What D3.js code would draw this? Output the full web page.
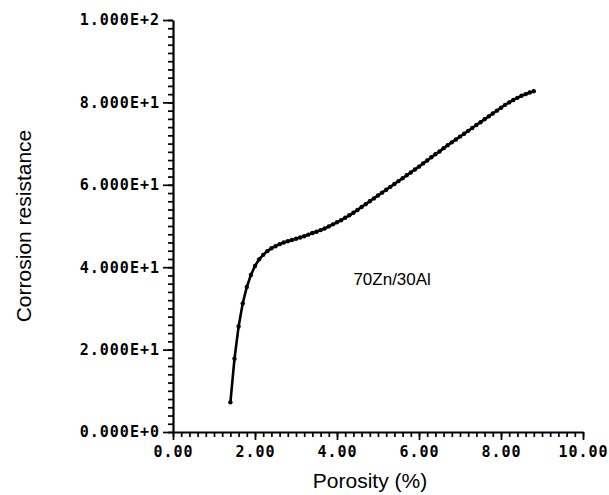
<!DOCTYPE html>
<html>
<head>
<meta charset="utf-8">
<script src="https://cdn.jsdelivr.net/npm/d3@7"></script>
<style>
  body { margin: 0; background: #fff; }
  svg { display: block; }
  .tick text { font-family: "DejaVu Sans Mono", monospace; font-weight: bold; font-size: 15px; letter-spacing: 1px; fill: #000; }
  .title { font-family: "Liberation Sans", Arial, sans-serif; font-size: 21px; fill: #000; }
</style>
</head>
<body>
<svg id="chart" width="609" height="495"></svg>
<script>
// porosity (%) and corrosion resistance
const porosity = [1.4, 1.5, 1.6, 1.7, 1.8, 1.9, 2.0, 2.1, 2.2, 2.3, 2.4, 2.5, 2.6, 2.7, 2.8, 2.9,
  3.0, 3.1, 3.2, 3.3, 3.4, 3.5, 3.6, 3.7, 3.8, 3.9, 4.0, 4.1, 4.2, 4.3, 4.4, 4.5, 4.6, 4.7, 4.8, 4.9,
  5.0, 5.1, 5.2, 5.3, 5.4, 5.5, 5.6, 5.7, 5.8, 5.9, 6.0, 6.1, 6.2, 6.3, 6.4, 6.5, 6.6, 6.7, 6.8, 6.9,
  7.0, 7.1, 7.2, 7.3, 7.4, 7.5, 7.6, 7.7, 7.8, 7.9, 8.0, 8.1, 8.2, 8.3, 8.4, 8.5, 8.6, 8.7, 8.8];
const resistance = [7.2, 17.8, 25.6, 31.2, 35.2, 38.1, 40.3, 41.9, 43.0, 43.9, 44.6, 45.1, 45.6, 46.0, 46.3, 46.6,
  46.9, 47.2, 47.5, 47.9, 48.3, 48.6, 49.0, 49.4, 49.9, 50.4, 50.9, 51.4, 52.0, 52.6, 53.2, 53.9, 54.6, 55.3, 56.0, 56.7,
  57.4, 58.1, 58.8, 59.5, 60.2, 60.9, 61.6, 62.3, 63.0, 63.7, 64.4, 65.2, 65.9, 66.7, 67.4, 68.1, 68.9, 69.6, 70.3, 71.0,
  71.7, 72.4, 73.1, 73.8, 74.5, 75.2, 75.9, 76.6, 77.3, 78.0, 78.7, 79.4, 80.0, 80.6, 81.1, 81.6, 82.0, 82.4, 82.7];

const yTicks = [0, 20, 40, 60, 80, 100];
const yTickLabels = ["0.000E+0", "2.000E+1", "4.000E+1", "6.000E+1", "8.000E+1", "1.000E+2"];
const xTicks = [0, 2, 4, 6, 8, 10];
const xTickLabels = ["0.00", "2.00", "4.00", "6.00", "8.00", "10.00"];
const seriesLabel = "70Zn/30Al";

const data = porosity.map((p, i) => ({ x: p, y: resistance[i] }));

const svg = d3.select("#chart");
const margin = { top: 20, right: 26, bottom: 63, left: 173 };
const width = +svg.attr("width") - margin.left - margin.right;
const height = +svg.attr("height") - margin.top - margin.bottom;

const g = svg.append("g").attr("transform", `translate(${margin.left},${margin.top})`);

const x = d3.scaleLinear().domain([0, 10]).range([0, width]);
const y = d3.scaleLinear().domain([0, 100]).range([height, 0]);

// minor ticks
g.append("g")
  .attr("transform", `translate(0,${height})`)
  .call(d3.axisBottom(x).tickValues(d3.range(0, 10.01, 0.2)).tickSize(5).tickFormat(""))
  .call(a => a.select(".domain").remove());
g.append("g")
  .call(d3.axisLeft(y).tickValues(d3.range(0, 100.1, 2)).tickSize(5).tickFormat(""))
  .call(a => a.select(".domain").remove());

// major ticks + labels
const xAxis = g.append("g")
  .attr("transform", `translate(0,${height})`)
  .call(d3.axisBottom(x).tickValues(xTicks).tickSize(8).tickSizeOuter(0)
    .tickFormat((d, i) => xTickLabels[i]));
xAxis.selectAll("text").attr("dy", "0.9em");

const yAxis = g.append("g")
  .call(d3.axisLeft(y).tickValues(yTicks).tickSize(10).tickSizeOuter(0)
    .tickFormat((d, i) => yTickLabels[i]));
yAxis.selectAll("text").attr("x", -13);

g.selectAll(".domain").attr("stroke-width", 2.2);
g.selectAll(".tick line").attr("stroke-width", 1.7);

// curve
const line = d3.line().x(d => x(d.x)).y(d => y(d.y));
g.append("path")
  .datum(data)
  .attr("fill", "none")
  .attr("stroke", "#000")
  .attr("stroke-width", 2.6)
  .attr("d", line);

g.selectAll(".pt")
  .data(data)
  .enter().append("circle")
  .attr("class", "pt")
  .attr("cx", d => x(d.x))
  .attr("cy", d => y(d.y))
  .attr("r", 2.2)
  .attr("fill", "#000");

// series label
g.append("text")
  .attr("class", "title")
  .attr("x", x(4.4))
  .attr("y", y(35.8))
  .style("font-size", "17px")
  .text(seriesLabel);

// axis titles
svg.append("text")
  .attr("class", "title")
  .attr("x", margin.left + width / 2 - 8)
  .attr("y", 488)
  .attr("text-anchor", "middle")
  .text("Porosity (%)");

svg.append("text")
  .attr("class", "title")
  .attr("transform", `translate(31,${margin.top + height / 2}) rotate(-90)`)
  .attr("text-anchor", "middle")
  .text("Corrosion resistance");
</script>
</body>
</html>
